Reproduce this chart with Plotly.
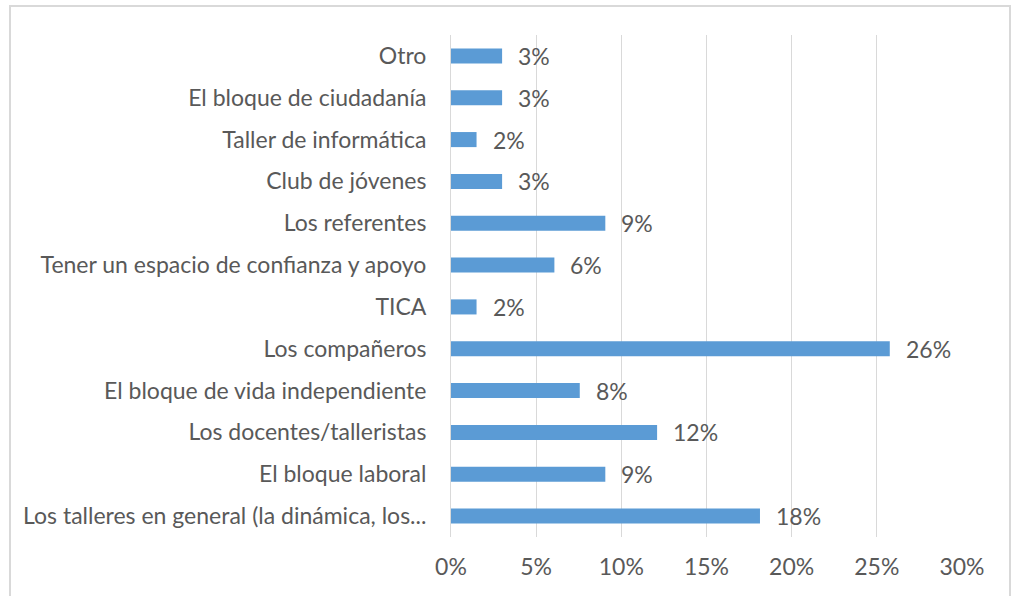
import plotly.graph_objects as go

categories = [
    "Los talleres en general (la dinámica, los...",
    "El bloque laboral",
    "Los docentes/talleristas",
    "El bloque de vida independiente",
    "Los compañeros",
    "TICA",
    "Tener un espacio de confianza y apoyo",
    "Los referentes",
    "Club de jóvenes",
    "Taller de informática",
    "El bloque de ciudadanía",
    "Otro",
]
values = [0.1814, 0.0906, 0.121, 0.0756, 0.2576, 0.015, 0.0607, 0.0906, 0.030, 0.015, 0.030, 0.030]
labels = ["18%", "9%", "12%", "8%", "26%", "2%", "6%", "9%", "3%", "2%", "3%", "3%"]
x_ticks = [0, 0.05, 0.10, 0.15, 0.20, 0.25, 0.30]
x_tick_labels = ["0%", "5%", "10%", "15%", "20%", "25%", "30%"]

W, H = 1016, 596
L, R, T, B = 451, 962, 35, 537
FONT = "Lato"
FS = 23
GREY = "#595959"

fig = go.Figure(
    go.Bar(
        x=values,
        y=categories,
        orientation="h",
        marker=dict(color="#5b9bd5", line=dict(width=0)),
        width=0.36,
        hoverinfo="skip",
    )
)

for v, c, t in zip(values, categories, labels):
    fig.add_annotation(
        x=v, y=c, text=t, showarrow=False, xanchor="left", yanchor="middle",
        xshift=14, font=dict(family=FONT, size=FS, color=GREY),
    )

def px_to_paper_x(px):
    return (px - L) / (R - L)

def px_to_paper_y(py):
    return (B - py) / (B - T)

fig.add_shape(
    type="path", xref="paper", yref="paper",
    path=(f"M {px_to_paper_x(10)} {px_to_paper_y(610)} "
          f"L {px_to_paper_x(10)} {px_to_paper_y(6)} "
          f"L {px_to_paper_x(1010)} {px_to_paper_y(6)} "
          f"L {px_to_paper_x(1010)} {px_to_paper_y(610)}"),
    line=dict(color="#d9d9d9", width=2),
    layer="above",
)

fig.update_layout(
    width=W, height=H,
    margin=dict(l=L, r=W - R, t=T, b=H - B, pad=0),
    plot_bgcolor="white", paper_bgcolor="white",
    showlegend=False,
    bargap=0.64,
    font=dict(family=FONT, size=FS, color=GREY),
    xaxis=dict(
        range=[0, 0.30], tickvals=x_ticks, ticktext=x_tick_labels,
        showgrid=True, gridcolor="#d9d9d9", gridwidth=1,
        zeroline=False, showline=False, ticks="",
        ticklabelstandoff=14,
        tickfont=dict(family=FONT, size=FS, color=GREY),
        fixedrange=True,
    ),
    yaxis=dict(
        categoryorder="array", categoryarray=categories,
        showgrid=False, zeroline=False,
        showline=True, linecolor="#d9d9d9", linewidth=1,
        ticks="", ticklabelstandoff=19,
        tickfont=dict(family=FONT, size=FS, color=GREY),
        fixedrange=True,
    ),
)

fig.write_html(
    "out.html",
    config={"displayModeBar": False},
    post_script="document.body.style.margin='0';document.body.style.overflow='hidden';",
)
